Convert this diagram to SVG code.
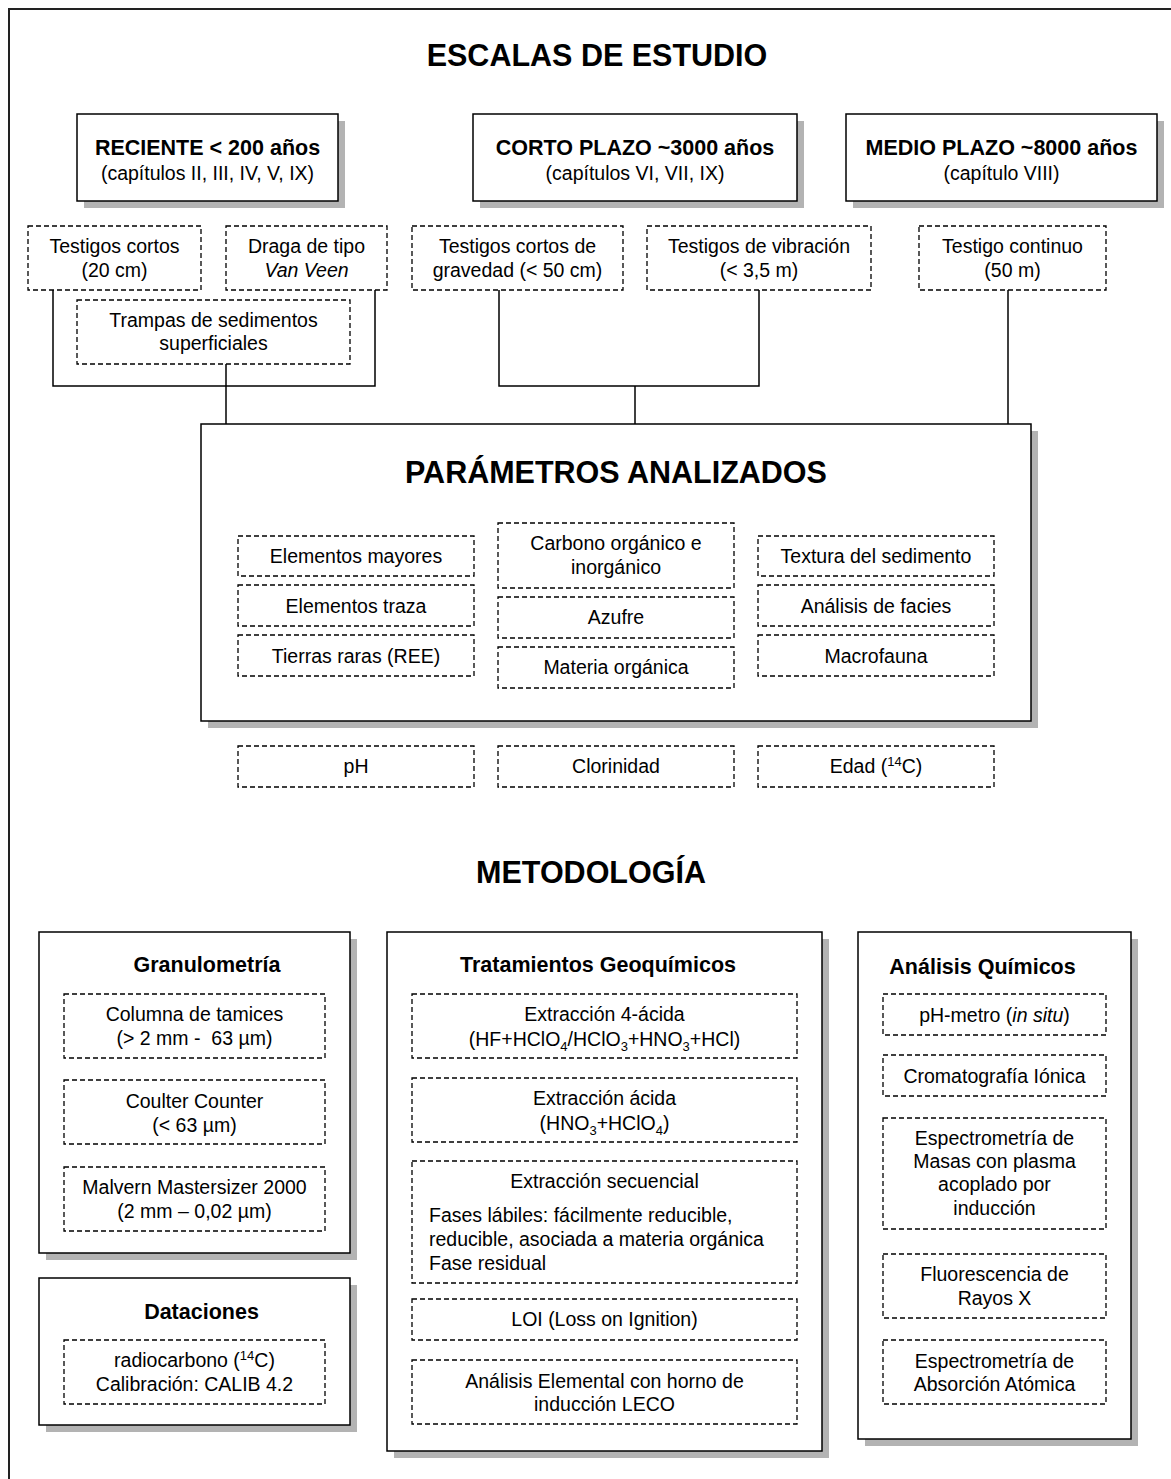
<svg xmlns="http://www.w3.org/2000/svg" width="1171" height="1479" viewBox="0 0 1171 1479">
<style>
.bg{fill:#fff}
.frame{fill:none;stroke:#222;stroke-width:2}
.box{fill:#fff;stroke:#000;stroke-width:1.5}
.sh{fill:#b3b3b3}
.dash{fill:#fff;stroke:#000;stroke-width:1.3;stroke-dasharray:5 3}
.conn{fill:none;stroke:#000;stroke-width:1.5}
text{font-family:"Liberation Sans",Arial,sans-serif;fill:#000}
.t{font-size:19.5px;text-anchor:middle}
.tl{font-size:19.5px;text-anchor:start}
.tb{font-size:21.5px;font-weight:bold;text-anchor:middle}
.h{font-size:30.5px;font-weight:bold;text-anchor:middle}
.sub{font-size:13px}
</style>
<rect class="bg" x="0" y="0" width="1171" height="1479"/>
<rect class="frame" x="9" y="9" width="1175" height="1490"/>

<text class="h" x="597" y="66">ESCALAS DE ESTUDIO</text>
<text class="h" x="591" y="883">METODOLOGÍA</text>

<g id="connectors">
<path class="conn" d="M53,290 V386 H375 V290"/>
<path class="conn" d="M226,364 V424"/>
<path class="conn" d="M499,290 V386 H759 V290"/>
<path class="conn" d="M635,386 V424"/>
<path class="conn" d="M1008,290 V424"/>
</g>

<g id="reciente">
<rect class="sh" x="84" y="121" width="261" height="87"/>
<rect class="box" x="77" y="114" width="261" height="87"/>
<text class="tb" x="207.5" y="155">RECIENTE &lt; 200 años</text>
<text class="t" x="207.5" y="180">(capítulos II, III, IV, V, IX)</text>
</g>
<g id="corto">
<rect class="sh" x="480" y="121" width="324" height="87"/>
<rect class="box" x="473" y="114" width="324" height="87"/>
<text class="tb" x="635" y="155">CORTO PLAZO ~3000 años</text>
<text class="t" x="635" y="180">(capítulos VI, VII, IX)</text>
</g>
<g id="medio">
<rect class="sh" x="853" y="121" width="311" height="87"/>
<rect class="box" x="846" y="114" width="311" height="87"/>
<text class="tb" x="1001.5" y="155">MEDIO PLAZO ~8000 años</text>
<text class="t" x="1001.5" y="180">(capítulo VIII)</text>
</g>

<g id="testigos-cortos">
<rect class="dash" x="28" y="226" width="173" height="64"/>
<text class="t" x="114.5" y="253">Testigos cortos</text>
<text class="t" x="114.5" y="277">(20 cm)</text>
</g>
<g id="draga">
<rect class="dash" x="226" y="226" width="161" height="64"/>
<text class="t" x="306.5" y="253">Draga de tipo</text>
<text class="t" x="306.5" y="277" font-style="italic">Van Veen</text>
</g>
<g id="trampas">
<rect class="dash" x="77" y="300" width="273" height="64"/>
<text class="t" x="213.5" y="327">Trampas de sedimentos</text>
<text class="t" x="213.5" y="350">superficiales</text>
</g>
<g id="gravedad">
<rect class="dash" x="412" y="226" width="211" height="64"/>
<text class="t" x="517.5" y="253">Testigos cortos de</text>
<text class="t" x="517.5" y="277">gravedad (&lt; 50 cm)</text>
</g>
<g id="vibracion">
<rect class="dash" x="647" y="226" width="224" height="64"/>
<text class="t" x="759" y="253">Testigos de vibración</text>
<text class="t" x="759" y="277">(&lt; 3,5 m)</text>
</g>
<g id="continuo">
<rect class="dash" x="919" y="226" width="187" height="64"/>
<text class="t" x="1012.5" y="253">Testigo continuo</text>
<text class="t" x="1012.5" y="277">(50 m)</text>
</g>

<g id="parametros">
<rect class="sh" x="208" y="431" width="830" height="297"/>
<rect class="box" x="201" y="424" width="830" height="297"/>
<text class="h" x="616" y="483">PARÁMETROS ANALIZADOS</text>
<rect class="dash" x="238" y="536" width="236" height="40"/>
<text class="t" x="356" y="563">Elementos mayores</text>
<rect class="dash" x="238" y="585" width="236" height="41"/>
<text class="t" x="356" y="613">Elementos traza</text>
<rect class="dash" x="238" y="635" width="236" height="41"/>
<text class="t" x="356" y="663">Tierras raras (REE)</text>
<rect class="dash" x="498" y="523" width="236" height="65"/>
<text class="t" x="616" y="550">Carbono orgánico e</text>
<text class="t" x="616" y="574">inorgánico</text>
<rect class="dash" x="498" y="597" width="236" height="41"/>
<text class="t" x="616" y="624">Azufre</text>
<rect class="dash" x="498" y="647" width="236" height="41"/>
<text class="t" x="616" y="674">Materia orgánica</text>
<rect class="dash" x="758" y="536" width="236" height="40"/>
<text class="t" x="876" y="563">Textura del sedimento</text>
<rect class="dash" x="758" y="585" width="236" height="41"/>
<text class="t" x="876" y="613">Análisis de facies</text>
<rect class="dash" x="758" y="635" width="236" height="41"/>
<text class="t" x="876" y="663">Macrofauna</text>
</g>

<g id="ph">
<rect class="dash" x="238" y="746" width="236" height="41"/>
<text class="t" x="356" y="773">pH</text>
</g>
<g id="clorinidad">
<rect class="dash" x="498" y="746" width="236" height="41"/>
<text class="t" x="616" y="773">Clorinidad</text>
</g>
<g id="edad">
<rect class="dash" x="758" y="746" width="236" height="41"/>
<text class="t" x="876" y="773">Edad (<tspan class="sub" dy="-7">14</tspan><tspan dy="7">C)</tspan></text>
</g>

<g id="granulometria">
<rect class="sh" x="46" y="939" width="311" height="321"/>
<rect class="box" x="39" y="932" width="311" height="321"/>
<text class="tb" x="207" y="972">Granulometría</text>
<rect class="dash" x="64" y="994" width="261" height="64"/>
<text class="t" x="194.5" y="1021">Columna de tamices</text>
<text class="t" x="194.5" y="1045" xml:space="preserve">(&gt; 2 mm -  63 µm)</text>
<rect class="dash" x="64" y="1080" width="261" height="64"/>
<text class="t" x="194.5" y="1108">Coulter Counter</text>
<text class="t" x="194.5" y="1132">(&lt; 63 µm)</text>
<rect class="dash" x="64" y="1167" width="261" height="64"/>
<text class="t" x="194.5" y="1194">Malvern Mastersizer 2000</text>
<text class="t" x="194.5" y="1218">(2 mm – 0,02 µm)</text>
</g>

<g id="dataciones">
<rect class="sh" x="46" y="1285" width="311" height="147"/>
<rect class="box" x="39" y="1278" width="311" height="147"/>
<text class="tb" x="201.5" y="1319">Dataciones</text>
<rect class="dash" x="64" y="1340" width="261" height="64"/>
<text class="t" x="194.5" y="1367">radiocarbono (<tspan class="sub" dy="-7">14</tspan><tspan dy="7">C)</tspan></text>
<text class="t" x="194.5" y="1391">Calibración: CALIB 4.2</text>
</g>

<g id="tratamientos">
<rect class="sh" x="394" y="939" width="435" height="519"/>
<rect class="box" x="387" y="932" width="435" height="519"/>
<text class="tb" x="598" y="972">Tratamientos Geoquímicos</text>
<rect class="dash" x="412" y="994" width="385" height="64"/>
<text class="t" x="604.5" y="1021">Extracción 4-ácida</text>
<text class="t" x="604.5" y="1046">(HF+HClO<tspan class="sub" dy="5">4</tspan><tspan dy="-5">/HClO</tspan><tspan class="sub" dy="5">3</tspan><tspan dy="-5">+HNO</tspan><tspan class="sub" dy="5">3</tspan><tspan dy="-5">+HCl)</tspan></text>
<rect class="dash" x="412" y="1078" width="385" height="64"/>
<text class="t" x="604.5" y="1105">Extracción ácida</text>
<text class="t" x="604.5" y="1130">(HNO<tspan class="sub" dy="5">3</tspan><tspan dy="-5">+HClO</tspan><tspan class="sub" dy="5">4</tspan><tspan dy="-5">)</tspan></text>
<rect class="dash" x="412" y="1161" width="385" height="122"/>
<text class="t" x="604.5" y="1188">Extracción secuencial</text>
<text class="tl" x="429" y="1222">Fases lábiles: fácilmente reducible,</text>
<text class="tl" x="429" y="1246">reducible, asociada a materia orgánica</text>
<text class="tl" x="429" y="1270">Fase residual</text>
<rect class="dash" x="412" y="1299" width="385" height="41"/>
<text class="t" x="604.5" y="1326">LOI (Loss on Ignition)</text>
<rect class="dash" x="412" y="1360" width="385" height="64"/>
<text class="t" x="604.5" y="1388">Análisis Elemental con horno de</text>
<text class="t" x="604.5" y="1411">inducción LECO</text>
</g>

<g id="analisis-quimicos">
<rect class="sh" x="865" y="939" width="273" height="507"/>
<rect class="box" x="858" y="932" width="273" height="507"/>
<text class="tb" x="982.5" y="974">Análisis Químicos</text>
<rect class="dash" x="883" y="994" width="223" height="41"/>
<text class="t" x="994.5" y="1022">pH-metro (<tspan font-style="italic">in situ</tspan>)</text>
<rect class="dash" x="883" y="1055" width="223" height="41"/>
<text class="t" x="994.5" y="1083">Cromatografía Iónica</text>
<rect class="dash" x="883" y="1118" width="223" height="111"/>
<text class="t" x="994.5" y="1145">Espectrometría de</text>
<text class="t" x="994.5" y="1168">Masas con plasma</text>
<text class="t" x="994.5" y="1191">acoplado por</text>
<text class="t" x="994.5" y="1215">inducción</text>
<rect class="dash" x="883" y="1254" width="223" height="64"/>
<text class="t" x="994.5" y="1281">Fluorescencia de</text>
<text class="t" x="994.5" y="1305">Rayos X</text>
<rect class="dash" x="883" y="1340" width="223" height="64"/>
<text class="t" x="994.5" y="1368">Espectrometría de</text>
<text class="t" x="994.5" y="1391">Absorción Atómica</text>
</g>
</svg>
